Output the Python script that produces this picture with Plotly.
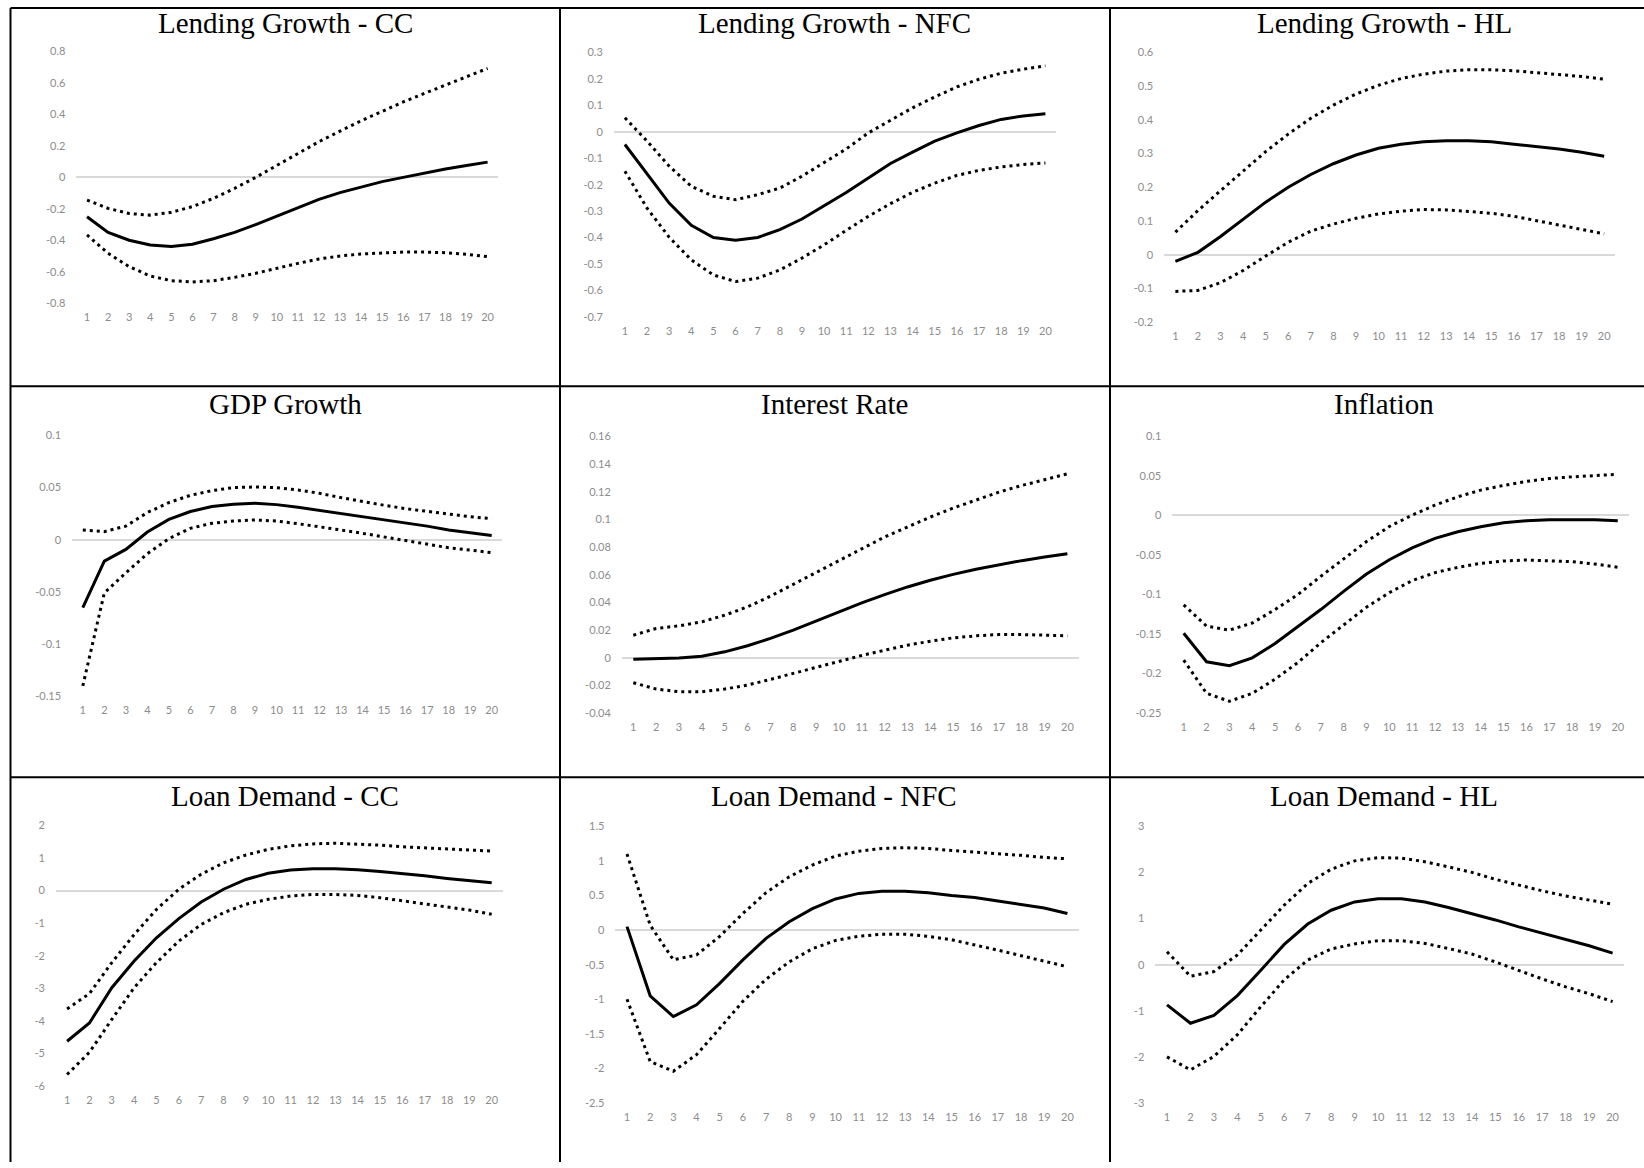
import plotly.graph_objects as go

W, H = 1644, 1168

periods = list(range(1, 21))

titles = ["Lending Growth - CC", "Lending Growth - NFC", "Lending Growth - HL",
          "GDP Growth", "Interest Rate", "Inflation",
          "Loan Demand - CC", "Loan Demand - NFC", "Loan Demand - HL"]

# y tick values / labels per panel
yticks_lg_cc = [-0.8, -0.6, -0.4, -0.2, 0, 0.2, 0.4, 0.6, 0.8]
ytext_lg_cc = ["-0.8", "-0.6", "-0.4", "-0.2", "0", "0.2", "0.4", "0.6", "0.8"]
yticks_lg_nfc = [-0.7, -0.6, -0.5, -0.4, -0.3, -0.2, -0.1, 0, 0.1, 0.2, 0.3]
ytext_lg_nfc = ["-0.7", "-0.6", "-0.5", "-0.4", "-0.3", "-0.2", "-0.1", "0", "0.1", "0.2", "0.3"]
yticks_lg_hl = [-0.2, -0.1, 0, 0.1, 0.2, 0.3, 0.4, 0.5, 0.6]
ytext_lg_hl = ["-0.2", "-0.1", "0", "0.1", "0.2", "0.3", "0.4", "0.5", "0.6"]
yticks_gdp = [-0.15, -0.1, -0.05, 0, 0.05, 0.1]
ytext_gdp = ["-0.15", "-0.1", "-0.05", "0", "0.05", "0.1"]
yticks_ir = [-0.04, -0.02, 0, 0.02, 0.04, 0.06, 0.08, 0.1, 0.12, 0.14, 0.16]
ytext_ir = ["-0.04", "-0.02", "0", "0.02", "0.04", "0.06", "0.08", "0.1", "0.12", "0.14", "0.16"]
yticks_inf = [-0.25, -0.2, -0.15, -0.1, -0.05, 0, 0.05, 0.1]
ytext_inf = ["-0.25", "-0.2", "-0.15", "-0.1", "-0.05", "0", "0.05", "0.1"]
yticks_ld_cc = [-6, -5, -4, -3, -2, -1, 0, 1, 2]
ytext_ld_cc = ["-6", "-5", "-4", "-3", "-2", "-1", "0", "1", "2"]
yticks_ld_nfc = [-2.5, -2, -1.5, -1, -0.5, 0, 0.5, 1, 1.5]
ytext_ld_nfc = ["-2.5", "-2", "-1.5", "-1", "-0.5", "0", "0.5", "1", "1.5"]
yticks_ld_hl = [-3, -2, -1, 0, 1, 2, 3]
ytext_ld_hl = ["-3", "-2", "-1", "0", "1", "2", "3"]

# Impulse responses: mean, upper band, lower band
lg_cc_mean = [-0.25, -0.35, -0.40, -0.43, -0.44, -0.425, -0.39, -0.35, -0.30, -0.245,
              -0.19, -0.14, -0.097, -0.06, -0.027, 0.0, 0.027, 0.053, 0.076, 0.097]
lg_cc_up = [-0.144, -0.197, -0.23, -0.24, -0.222, -0.186, -0.133, -0.07, 0.0, 0.076,
            0.15, 0.227, 0.294, 0.36, 0.42, 0.48, 0.534, 0.587, 0.64, 0.693]
lg_cc_lo = [-0.366, -0.483, -0.568, -0.627, -0.657, -0.665, -0.657, -0.636, -0.61, -0.578,
            -0.547, -0.519, -0.50, -0.487, -0.479, -0.475, -0.475, -0.479, -0.489, -0.504]

lg_nfc_mean = [-0.048, -0.16, -0.27, -0.354, -0.40, -0.41, -0.40, -0.37, -0.33, -0.28,
               -0.23, -0.175, -0.12, -0.077, -0.035, -0.004, 0.024, 0.047, 0.06, 0.068]
lg_nfc_up = [0.053, -0.035, -0.13, -0.206, -0.244, -0.257, -0.238, -0.213, -0.168, -0.118,
             -0.065, -0.004, 0.044, 0.091, 0.132, 0.17, 0.199, 0.222, 0.237, 0.25]
lg_nfc_lo = [-0.149, -0.289, -0.399, -0.485, -0.542, -0.567, -0.554, -0.523, -0.478, -0.428,
             -0.373, -0.32, -0.272, -0.229, -0.194, -0.165, -0.146, -0.133, -0.124, -0.118]

lg_hl_mean = [-0.02, 0.007, 0.054, 0.106, 0.156, 0.20, 0.238, 0.27, 0.296, 0.316,
              0.328, 0.335, 0.338, 0.338, 0.335, 0.328, 0.321, 0.314, 0.304, 0.292]
lg_hl_up = [0.067, 0.131, 0.19, 0.249, 0.306, 0.358, 0.405, 0.444, 0.477, 0.503,
            0.523, 0.536, 0.545, 0.549, 0.549, 0.546, 0.541, 0.535, 0.529, 0.521]
lg_hl_lo = [-0.109, -0.106, -0.083, -0.047, -0.004, 0.037, 0.07, 0.091, 0.108, 0.121,
            0.129, 0.134, 0.133, 0.129, 0.123, 0.114, 0.101, 0.088, 0.075, 0.062]

gdp_mean = [-0.065, -0.0205, -0.0093, 0.0074, 0.0195, 0.027, 0.0317, 0.034, 0.035, 0.0336,
            0.031, 0.028, 0.025, 0.0227, 0.0195, 0.016, 0.013, 0.0093, 0.0067, 0.004]
gdp_up = [0.0093, 0.0077, 0.013, 0.026, 0.0355, 0.0425, 0.047, 0.0499, 0.0505, 0.0499,
          0.0476, 0.0444, 0.0403, 0.0364, 0.033, 0.0297, 0.0269, 0.0243, 0.022, 0.0201]
gdp_lo = [-0.14, -0.051, -0.0317, -0.0134, 0.001, 0.0109, 0.0157, 0.0179, 0.0189, 0.0179,
          0.0153, 0.0125, 0.0093, 0.0061, 0.0026, -0.0013, -0.0045, -0.0077, -0.0099, -0.0125]

ir_mean = [-0.001, -0.0005, -0.0002, 0.0012, 0.0043, 0.0087, 0.014, 0.020, 0.0267, 0.0332,
           0.0397, 0.0457, 0.0512, 0.056, 0.0603, 0.064, 0.0673, 0.0702, 0.0728, 0.0752]
ir_up = [0.0163, 0.0212, 0.0231, 0.026, 0.0308, 0.0368, 0.0445, 0.0531, 0.062, 0.0704,
         0.0788, 0.0873, 0.0945, 0.1017, 0.1082, 0.1142, 0.1197, 0.1245, 0.1288, 0.1329]
ir_lo = [-0.018, -0.0226, -0.0245, -0.0245, -0.0226, -0.0197, -0.0156, -0.0113, -0.007, -0.0024,
         0.0017, 0.0055, 0.0091, 0.012, 0.0144, 0.0159, 0.0168, 0.0168, 0.0166, 0.0159]

inf_mean = [-0.149, -0.185, -0.19, -0.18, -0.162, -0.141, -0.119, -0.096, -0.074, -0.056,
            -0.041, -0.029, -0.0206, -0.0143, -0.0093, -0.0067, -0.0055, -0.0055, -0.0055, -0.0067]
inf_up = [-0.113, -0.14, -0.145, -0.136, -0.119, -0.10, -0.077, -0.055, -0.033, -0.014,
          0.0004, 0.013, 0.0236, 0.032, 0.038, 0.043, 0.0467, 0.0488, 0.0505, 0.052]
inf_lo = [-0.183, -0.225, -0.235, -0.225, -0.207, -0.186, -0.161, -0.138, -0.116, -0.0976,
          -0.0824, -0.0723, -0.0656, -0.0606, -0.0576, -0.0563, -0.0572, -0.0585, -0.0614, -0.0656]

ld_cc_mean = [-4.62, -4.06, -2.98, -2.16, -1.45, -0.86, -0.35, 0.04, 0.34, 0.53,
              0.63, 0.67, 0.67, 0.64, 0.58, 0.52, 0.45, 0.37, 0.31, 0.24]
ld_cc_up = [-3.63, -3.16, -2.21, -1.35, -0.58, 0.04, 0.50, 0.85, 1.09, 1.26,
            1.37, 1.43, 1.45, 1.43, 1.39, 1.34, 1.31, 1.28, 1.24, 1.21]
ld_cc_lo = [-5.64, -4.96, -3.95, -2.98, -2.21, -1.55, -1.04, -0.68, -0.42, -0.27,
            -0.17, -0.12, -0.12, -0.15, -0.22, -0.32, -0.42, -0.51, -0.60, -0.73]

ld_nfc_mean = [0.05, -0.95, -1.25, -1.08, -0.77, -0.43, -0.12, 0.12, 0.31, 0.45,
               0.53, 0.56, 0.56, 0.54, 0.50, 0.47, 0.42, 0.37, 0.32, 0.24]
ld_nfc_up = [1.10, 0.07, -0.43, -0.36, -0.09, 0.24, 0.54, 0.77, 0.94, 1.07,
             1.14, 1.18, 1.19, 1.18, 1.15, 1.13, 1.11, 1.08, 1.05, 1.03]
ld_nfc_lo = [-1.0, -1.90, -2.04, -1.80, -1.42, -1.03, -0.71, -0.46, -0.27, -0.15,
             -0.09, -0.06, -0.06, -0.09, -0.14, -0.21, -0.29, -0.37, -0.45, -0.53]

ld_hl_mean = [-0.87, -1.27, -1.10, -0.67, -0.12, 0.44, 0.88, 1.18, 1.36, 1.43,
              1.43, 1.36, 1.24, 1.11, 0.97, 0.82, 0.68, 0.55, 0.41, 0.25]
ld_hl_up = [0.28, -0.25, -0.15, 0.21, 0.75, 1.29, 1.76, 2.07, 2.25, 2.32,
            2.31, 2.23, 2.12, 2.00, 1.85, 1.72, 1.60, 1.49, 1.40, 1.31]
ld_hl_lo = [-2.0, -2.28, -1.99, -1.52, -0.91, -0.33, 0.10, 0.34, 0.45, 0.52,
            0.52, 0.46, 0.35, 0.23, 0.06, -0.13, -0.31, -0.48, -0.63, -0.80]

panels = [
    (lg_cc_mean, lg_cc_up, lg_cc_lo, yticks_lg_cc, ytext_lg_cc),
    (lg_nfc_mean, lg_nfc_up, lg_nfc_lo, yticks_lg_nfc, ytext_lg_nfc),
    (lg_hl_mean, lg_hl_up, lg_hl_lo, yticks_lg_hl, ytext_lg_hl),
    (gdp_mean, gdp_up, gdp_lo, yticks_gdp, ytext_gdp),
    (ir_mean, ir_up, ir_lo, yticks_ir, ytext_ir),
    (inf_mean, inf_up, inf_lo, yticks_inf, ytext_inf),
    (ld_cc_mean, ld_cc_up, ld_cc_lo, yticks_ld_cc, ytext_ld_cc),
    (ld_nfc_mean, ld_nfc_up, ld_nfc_lo, yticks_ld_nfc, ytext_ld_nfc),
    (ld_hl_mean, ld_hl_up, ld_hl_lo, yticks_ld_hl, ytext_ld_hl),
]

# Layout geometry (pixels): x of category 1, x of category 20, y of top tick, y of bottom tick
geom = [
    (87.0, 487.6, 45.1, 299.5),
    (624.9, 1045.4, 46.1, 313.2),
    (1175.4, 1604.2, 46.1, 318.6),
    (82.8, 491.7, 433.1, 697.1),
    (633.3, 1067.4, 434.2, 714.1),
    (1183.7, 1617.8, 434.2, 714.1),
    (67.1, 491.7, 827.5, 1091.4),
    (627.0, 1067.4, 828.5, 1108.4),
    (1167.0, 1612.6, 828.5, 1108.4),
]
title_pos = [(285, 16), (834, 16), (1384, 16),
             (285, 401.5), (834, 401.5), (1384, 401.5),
             (285, 798), (834, 798), (1384, 798)]

fig = go.Figure()
tick_font = dict(family="Lato, Liberation Sans, sans-serif", size=11, color="#8c8c8c")

for i, ((mean, up, lo, tv, tt), (x1, x20, yt, yb)) in enumerate(zip(panels, geom)):
    idx = "" if i == 0 else str(i + 1)
    xa, ya = "x" + idx, "y" + idx
    w = (x20 - x1) / 19
    xd = [(x1 - w / 2) / W, (x20 + w / 2) / W]
    yd = [1 - yb / H, 1 - yt / H]
    for series, dash in ((up, "3px,4px"), (lo, "3px,4px"), (mean, "solid")):
        fig.add_trace(go.Scatter(x=periods, y=series, mode="lines", xaxis=xa, yaxis=ya,
                                 line=dict(color="black", width=3, dash=dash),
                                 showlegend=False, hoverinfo="skip"))
    fig.layout["xaxis" + idx] = dict(domain=xd, range=[0.5, 20.5], tickvals=periods,
                                     ticktext=[str(p) for p in periods], showgrid=False,
                                     zeroline=False, showline=False, ticks="",
                                     tickfont=tick_font, anchor=ya, ticklabelstandoff=6,
                                     fixedrange=True)
    fig.layout["yaxis" + idx] = dict(domain=yd, range=[tv[0], tv[-1]], tickvals=tv,
                                     ticktext=tt, showgrid=False, zeroline=True,
                                     zerolinecolor="#d9d9d9", zerolinewidth=1.5,
                                     showline=False, ticks="", tickfont=tick_font,
                                     anchor=xa, ticklabelstandoff=10, fixedrange=True)
    tx, ty = title_pos[i]
    fig.add_annotation(text=titles[i], x=tx / W, y=1 - ty / H, xref="paper", yref="paper",
                       showarrow=False, xanchor="center", yanchor="middle",
                       font=dict(family="Liberation Serif, serif", size=29, color="black"))

# table borders
border = dict(color="black", width=2)
top_y = 1.0
for xv in (10.5, 560, 1110):
    fig.add_shape(type="line", xref="paper", yref="paper", x0=xv / W, x1=xv / W,
                  y0=0, y1=1 - top_y / H, line=border)
for yv in (top_y, 383.4, 778.8):
    fig.add_shape(type="line", xref="paper", yref="paper", x0=10.5 / W, x1=1,
                  y0=1 - yv / H, y1=1 - yv / H, line=border)

fig.update_layout(width=W, height=H, margin=dict(l=0, r=0, t=0, b=0),
                  paper_bgcolor="white", plot_bgcolor="white")

fig.write_html("out.html", config={"displayModeBar": False},
               post_script="document.body.style.margin='0';document.body.style.overflow='hidden';")
